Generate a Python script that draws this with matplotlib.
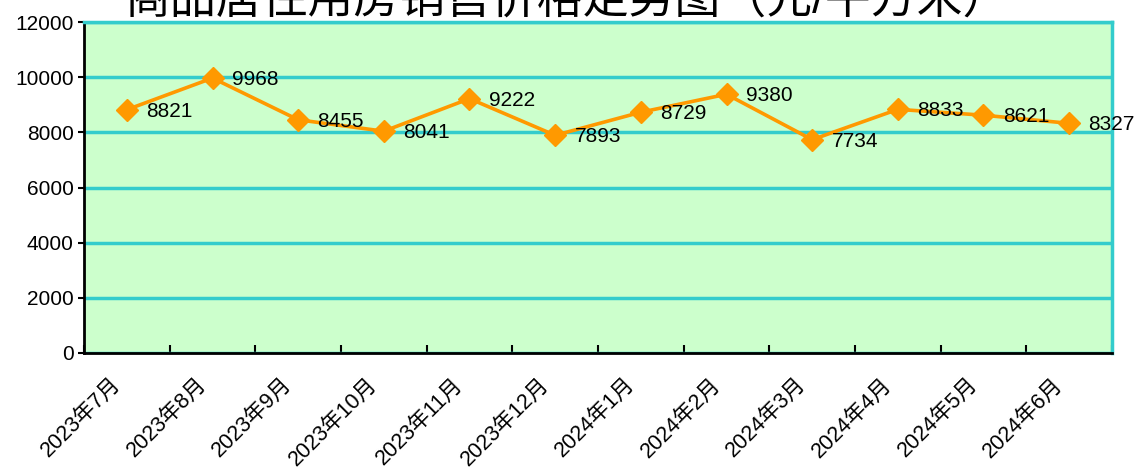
import matplotlib.pyplot as plt
from matplotlib.transforms import ScaledTranslation

plt.rcParams['font.family'] = ['Liberation Sans', 'Noto Sans CJK SC', 'DejaVu Sans']

# 商品居住用房销售价格（元/平方米）
meses = ['2023年7月', '2023年8月', '2023年9月', '2023年10月', '2023年11月', '2023年12月',
         '2024年1月', '2024年2月', '2024年3月', '2024年4月', '2024年5月', '2024年6月']
precios = [8821, 9968, 8455, 8041, 9222, 7893, 8729, 9380, 7734, 8833, 8621, 8327]
titulo = '商品居住用房销售价格走势图（元/平方米）'

teal = '#33CCCC'
naranja = '#FF9900'

fig = plt.figure(figsize=(11.38, 4.70), dpi=100)
ax = fig.add_axes([84 / 1138, 1 - 353 / 470, 1028 / 1138, 331 / 470])
ax.set_facecolor('#CCFFCC')

x = list(range(len(meses)))
ax.plot(x, precios, color=naranja, linewidth=2.6, marker='D', markersize=11.5,
        markerfacecolor=naranja, markeredgecolor=naranja, zorder=3)
for xi, v in zip(x, precios):
    ax.annotate(str(v), (xi, v), xytext=(14, -1), textcoords='offset points',
                ha='left', va='center', fontsize=15, zorder=4)

ax.set_xlim(-0.5, len(meses) - 0.5)
ax.set_ylim(0, 12000)
ax.set_yticks(range(0, 12001, 2000))
ax.tick_params(axis='y', labelsize=15, length=4, width=1.5, direction='out')

# marcas del eje x entre categorias
ax.set_xticks([i - 0.5 for i in range(len(meses) + 1)], minor=False)
ax.set_xticklabels([''] * (len(meses) + 1))
ax.tick_params(axis='x', length=6, width=1.5, direction='in')
ax.set_xticks(x, minor=True)
etiquetas = ax.set_xticklabels(meses, minor=True, rotation=45, ha='right', va='top',
                               rotation_mode='anchor', fontsize=15.5)
ax.tick_params(axis='x', which='minor', length=0, pad=15)
desplaza = ScaledTranslation(-17 / 100, 0, fig.dpi_scale_trans)
for t in etiquetas:
    t.set_transform(t.get_transform() + desplaza)

ax.grid(axis='y', color=teal, linewidth=2.5, zorder=1)
ax.set_axisbelow(True)
ax.spines['left'].set_color('black')
ax.spines['left'].set_linewidth(2)
ax.spines['bottom'].set_color('black')
ax.spines['bottom'].set_linewidth(2)
ax.spines['top'].set_color(teal)
ax.spines['top'].set_linewidth(2.5)
ax.spines['right'].set_color(teal)
ax.spines['right'].set_linewidth(2.5)

fig.text(566 / 1138, 1 - 13 / 470, titulo, fontsize=33, ha='center', va='baseline')

fig.savefig('out.png', dpi=100)
